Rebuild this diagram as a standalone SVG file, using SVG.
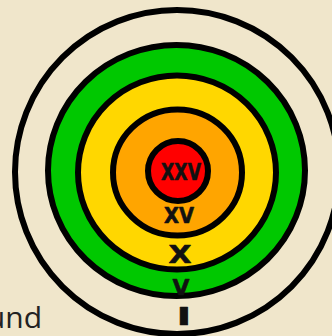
<svg xmlns="http://www.w3.org/2000/svg" width="332" height="336" viewBox="0 0 332 336">
<style>
.ring{stroke:#000;stroke-width:6}
.num{font-family:"DejaVu Sans",sans-serif;font-weight:bold;fill:#111;stroke:#111;stroke-width:0.6;stroke-linejoin:round;text-anchor:middle}
</style>
<rect width="332" height="336" fill="#F0E6CB"/>
<g id="ring-I"><circle class="ring" cx="177" cy="172" r="162" fill="#F0E6CB" stroke-width="5"/></g>
<g id="ring-V"><ellipse class="ring" cx="176.5" cy="170.5" rx="128.5" ry="125.5" fill="#00C800"/></g>
<g id="ring-X"><ellipse class="ring" cx="177" cy="172.5" rx="99" ry="97" fill="#FFD700"/></g>
<g id="ring-XV"><ellipse class="ring" cx="177.5" cy="172.5" rx="64.5" ry="63" fill="#FFA500"/></g>
<g id="ring-XXV"><circle class="ring" cx="178" cy="171" r="30" fill="#FF0000"/></g>
<g id="labels">
<text class="num" x="181" y="180" font-size="23" textLength="40" lengthAdjust="spacingAndGlyphs">XXV</text>
<text class="num" x="179" y="223" font-size="21" textLength="30" lengthAdjust="spacingAndGlyphs">XV</text>
<text class="num" x="180" y="263" font-size="25" textLength="23" lengthAdjust="spacingAndGlyphs">X</text>
<text class="num" x="181" y="295" font-size="21" textLength="17" lengthAdjust="spacingAndGlyphs">V</text>
<text class="num" transform="translate(184,325) scale(1.6,1)" font-size="24" font-family="Liberation Serif,serif" stroke-width="1">I</text>
</g>
<text x="42" y="328" font-family="Open Sans,sans-serif" font-size="30" fill="#222" text-anchor="end">und</text>
</svg>
